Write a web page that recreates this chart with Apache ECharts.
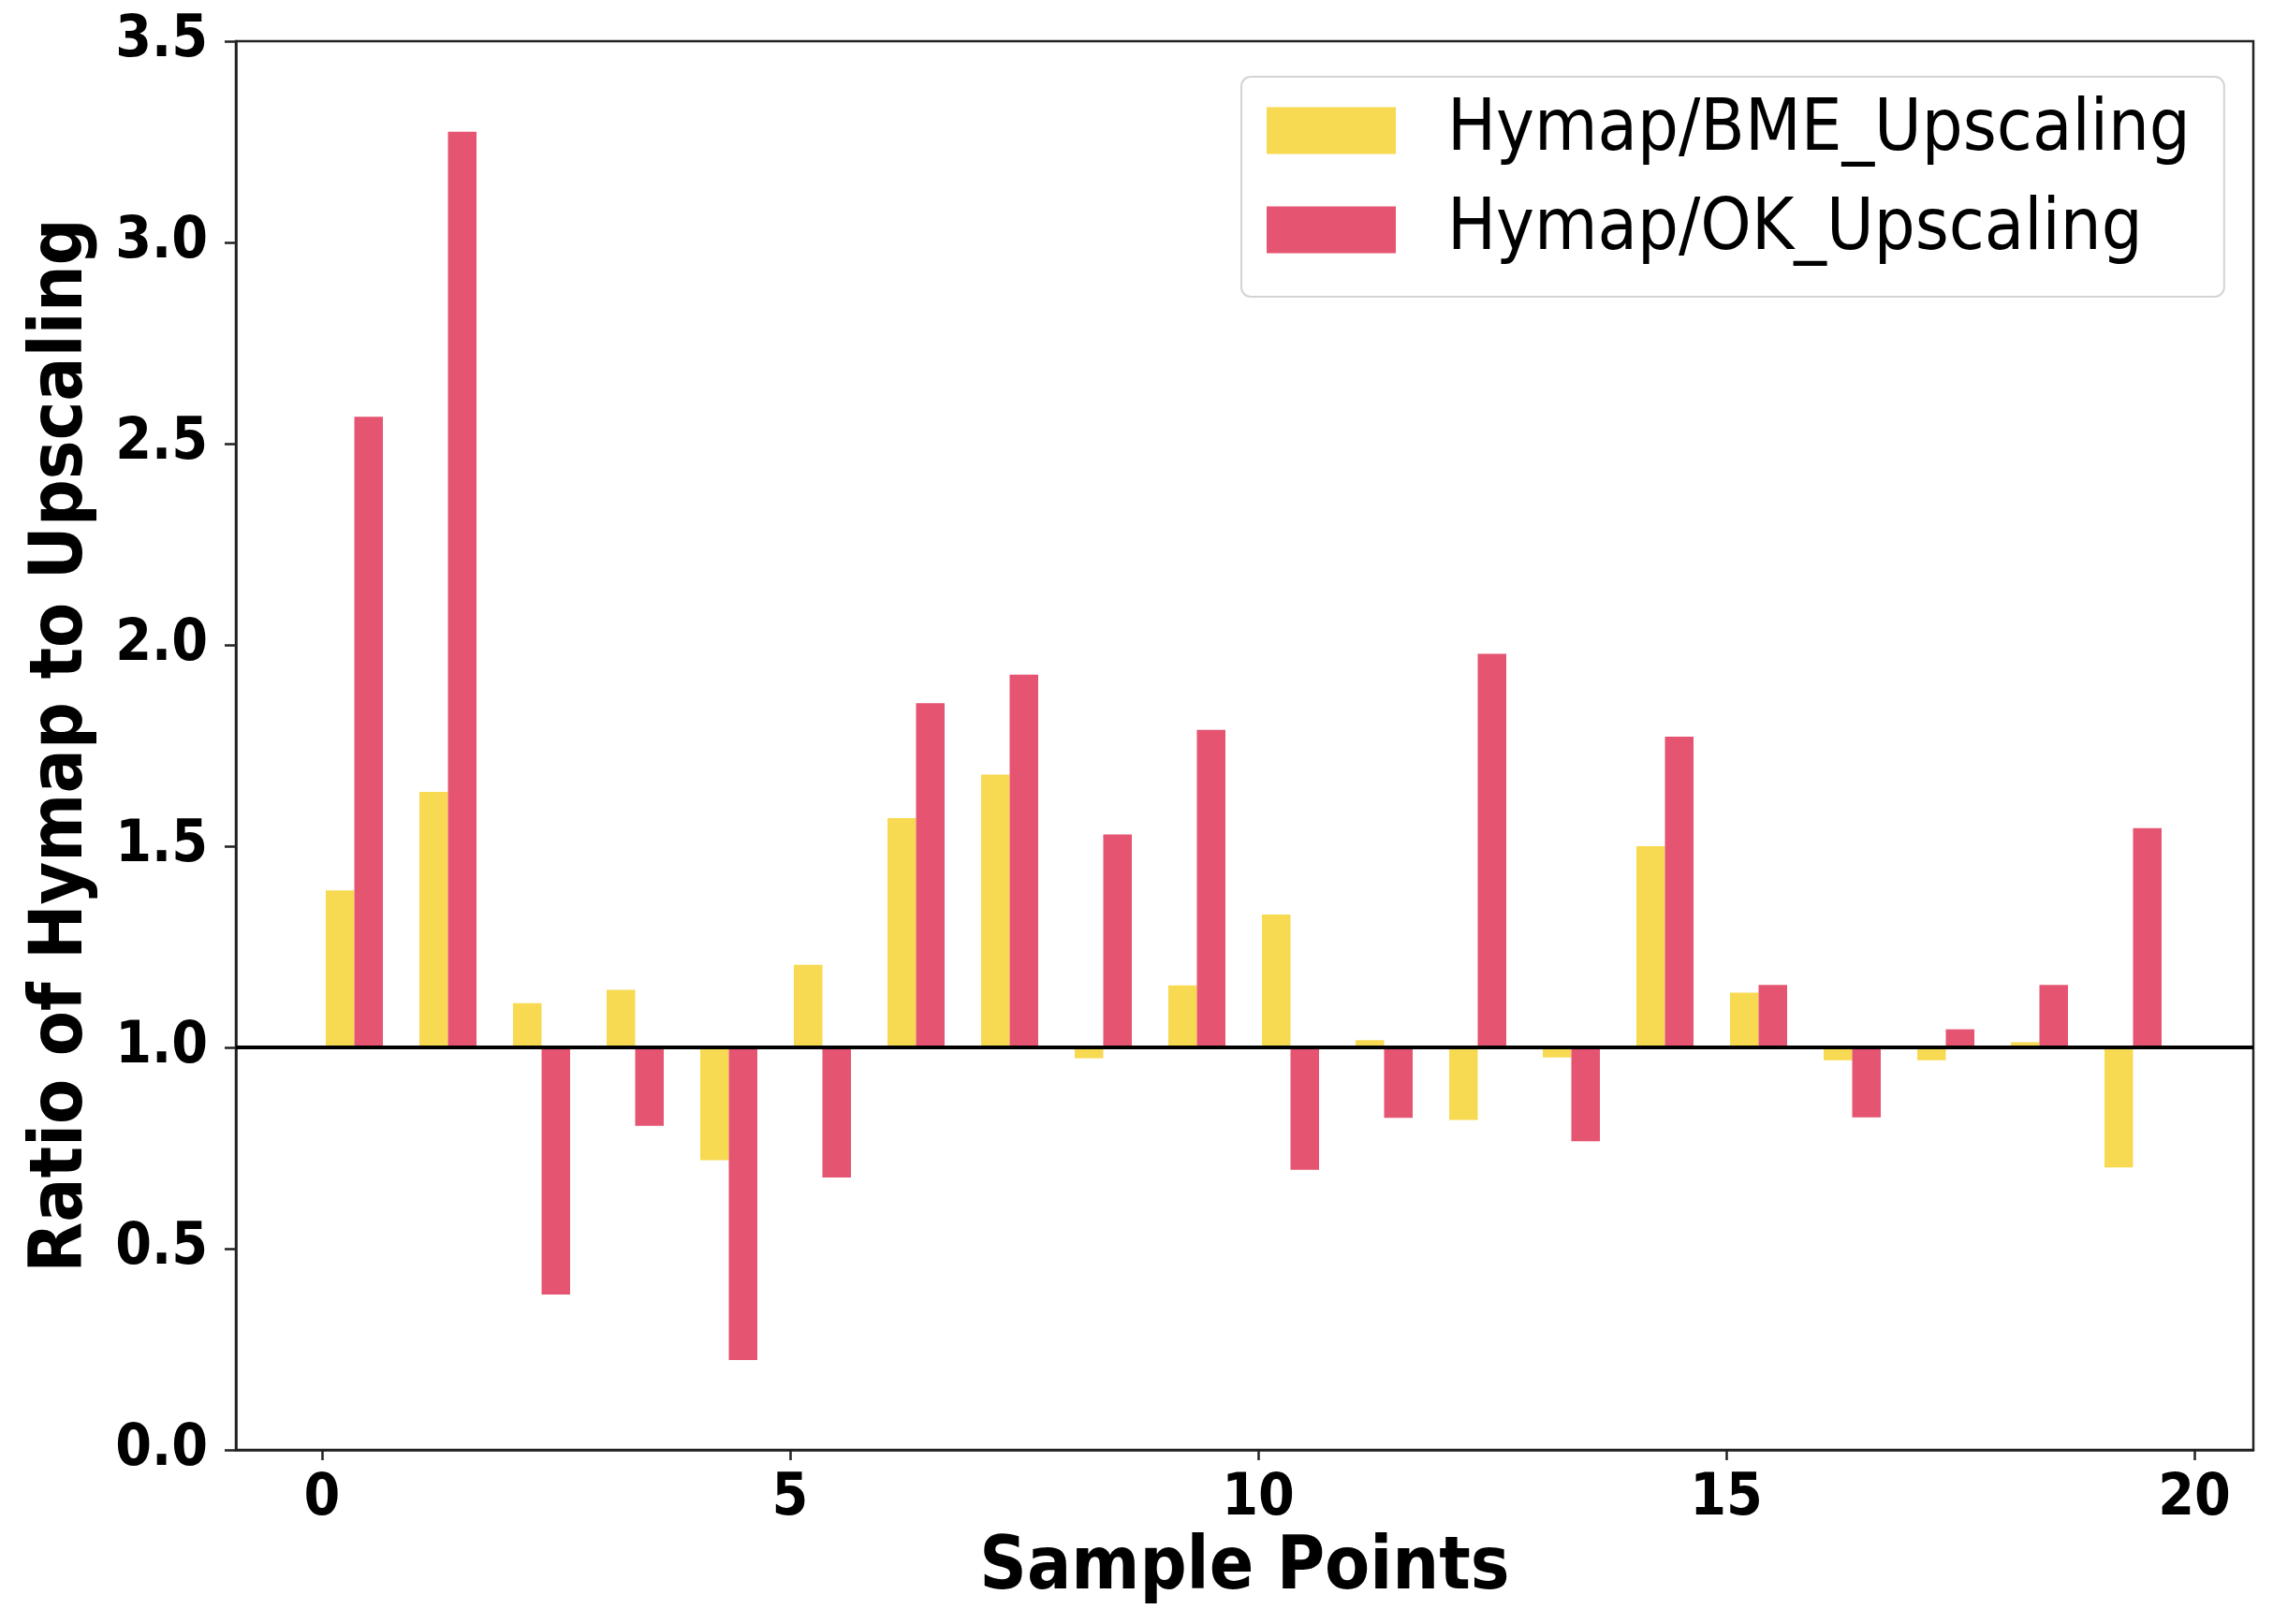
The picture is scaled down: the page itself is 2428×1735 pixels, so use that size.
<!DOCTYPE html>
<html>
<head>
<meta charset="utf-8">
<script src="https://cdn.jsdelivr.net/npm/echarts@6/dist/echarts.min.js"></script>
<style>
html,body{margin:0;padding:0;background:#fff;}
#chart{width:2428px;height:1735px;}
</style>
</head>
<body>
<div id="chart"></div>
<script>
const samplePoints = [0,1,2,3,4,5,6,7,8,9,10,11,12,13,14,15,16,17,18,19];
const bmeRatio = [1.39, 1.635, 1.11, 1.143, 0.72, 1.205, 1.57, 1.678, 0.973, 1.154, 1.33, 1.018, 0.82, 0.975, 1.5, 1.136, 0.968, 0.968, 1.013, 0.702];
const okRatio  = [2.567, 3.275, 0.386, 0.805, 0.223, 0.677, 1.855, 1.926, 1.529, 1.789, 0.696, 0.825, 1.978, 0.767, 1.772, 1.155, 0.826, 1.045, 1.155, 1.545];
const seriesNames = ['Hymap/BME_Upscaling', 'Hymap/OK_Upscaling'];
const xTicks = [0, 5, 10, 15, 20];
const baseValue = 1.0;

const BAR_W = 0.305;
const BAR_OFF = 0.04;
const COLORS = ['#F7DA52', '#E55471'];
const FONT_B = '"DejaVu Sans Condensed", "DejaVu Sans", sans-serif';

function makeRender(offset, color) {
  return function (params, api) {
    const x = api.value(0), v = api.value(1);
    const p0 = api.coord([x + offset, baseValue]);
    const p1 = api.coord([x + offset + BAR_W, v]);
    return {
      type: 'rect',
      shape: { x: p0[0], y: Math.min(p0[1], p1[1]), width: p1[0] - p0[0], height: Math.abs(p1[1] - p0[1]) },
      style: { fill: color }
    };
  };
}

const chart = echarts.init(document.getElementById('chart'), null, { renderer: 'canvas' });
chart.setOption({
  animation: false,
  backgroundColor: '#fff',
  grid: { left: 252, right: 21, top: 44, bottom: 186, show: true, borderColor: '#222', borderWidth: 2.5, backgroundColor: 'transparent' },
  legend: {
    orient: 'vertical',
    left: 1326, top: 82,
    itemWidth: 138, itemHeight: 50, itemGap: 29,
    padding: [19, 36, 33, 27],
    borderColor: '#d4d4d4', borderWidth: 2, borderRadius: 10,
    backgroundColor: '#fff',
    icon: 'rect',
    data: seriesNames,
    textStyle: { fontFamily: FONT_B, fontSize: 77, color: '#000', lineHeight: 70, padding: [0, 0, 0, 50] }
  },
  xAxis: {
    type: 'value', min: -0.92, max: 20.63,
    name: 'Sample Points', nameLocation: 'middle', nameGap: 88,
    nameTextStyle: { fontFamily: FONT_B, fontWeight: 'bold', fontSize: 78, color: '#000' },
    axisLine: { show: true, onZero: false, lineStyle: { color: '#222', width: 2.5 } },
    axisTick: { show: true, length: 11, lineStyle: { color: '#222', width: 2.5 }, customValues: xTicks },
    axisLabel: { fontFamily: FONT_B, fontWeight: 'bold', fontSize: 62, color: '#000', margin: 22, customValues: xTicks },
    splitLine: { show: false }
  },
  yAxis: {
    type: 'value', min: 0, max: 3.5, interval: 0.5,
    name: 'Ratio of Hymap to Upscaling', nameLocation: 'middle', nameGap: 146,
    nameTextStyle: { fontFamily: FONT_B, fontWeight: 'bold', fontSize: 78, color: '#000' },
    axisLine: { show: true, onZero: false, lineStyle: { color: '#222', width: 2.5 } },
    axisTick: { show: true, length: 12, lineStyle: { color: '#222', width: 2.5 } },
    axisLabel: { fontFamily: FONT_B, fontWeight: 'bold', fontSize: 62, color: '#000', margin: 30, formatter: v => v.toFixed(1) },
    splitLine: { show: false }
  },
  series: [
    {
      name: seriesNames[0], type: 'custom',
      itemStyle: { color: COLORS[0] },
      encode: { x: 0, y: 1 },
      data: samplePoints.map((s, i) => [s, bmeRatio[i]]),
      renderItem: makeRender(BAR_OFF, COLORS[0])
    },
    {
      name: seriesNames[1], type: 'custom',
      itemStyle: { color: COLORS[1] },
      encode: { x: 0, y: 1 },
      data: samplePoints.map((s, i) => [s, okRatio[i]]),
      renderItem: makeRender(BAR_OFF + BAR_W, COLORS[1]),
      markLine: {
        silent: true, symbol: 'none', label: { show: false },
        lineStyle: { color: '#000', width: 4, type: 'solid' },
        data: [{ yAxis: baseValue }]
      }
    }
  ]
});
</script>
</body>
</html>
